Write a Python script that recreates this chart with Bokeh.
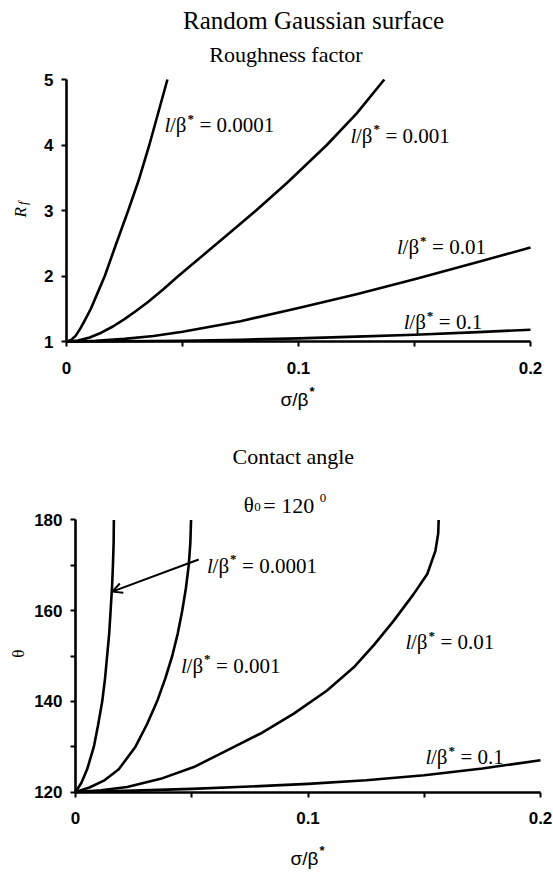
import math
from bokeh.plotting import figure
from bokeh.models import FixedTicker, Label, Arrow, OpenHead
from bokeh.layouts import column
from bokeh.embed import file_html
from bokeh.resources import INLINE

# ---------------- data: roughness factor (top panel) ----------------
rf_x_0001 = [0, 0.002, 0.004, 0.006, 0.008, 0.0105, 0.0135, 0.0165, 0.021, 0.0266, 0.031, 0.0357, 0.0435]
rf_y_0001 = [1, 1.025, 1.09, 1.2, 1.33, 1.5, 1.75, 2.0, 2.45, 3.0, 3.45, 4.0, 5.0]
rf_x_001 = [0, 0.005, 0.01, 0.015, 0.02, 0.025, 0.0295, 0.035, 0.0415, 0.0482, 0.06, 0.07, 0.0817, 0.095, 0.1122, 0.125, 0.137]
rf_y_001 = [1, 1.016, 1.062, 1.134, 1.229, 1.341, 1.455, 1.6, 1.79, 2.0, 2.35, 2.65, 3.0, 3.42, 4.0, 4.48, 5.0]
rf_x_01 = [0, 0.0125, 0.025, 0.0375, 0.05, 0.075, 0.1, 0.125, 0.15, 0.175, 0.2]
rf_y_01 = [1, 1.01, 1.04, 1.085, 1.15, 1.31, 1.51, 1.72, 1.95, 2.19, 2.435]
rf_x_1 = [0, 0.025, 0.05, 0.075, 0.1, 0.125, 0.15, 0.175, 0.2]
rf_y_1 = [1, 1.003, 1.012, 1.027, 1.048, 1.074, 1.104, 1.14, 1.18]

# ---------------- data: contact angle (bottom panel) ----------------
th_x_0001 = [0, 0.0025, 0.005, 0.0079, 0.0098, 0.0115, 0.0127, 0.0136, 0.0145, 0.0151, 0.0157, 0.0161, 0.0164, 0.0165]
th_y_0001 = [120, 122, 125, 130, 135, 140, 145, 150, 155, 160, 165, 170, 175, 180]
th_x_001 = [0, 0.006, 0.0122, 0.0186, 0.0258, 0.0308, 0.0351, 0.0386, 0.0416, 0.044, 0.0459, 0.0475, 0.0487, 0.0494, 0.0497]
th_y_001 = [120, 121, 122.5, 125, 130, 135, 140, 145, 150, 155, 160, 165, 170, 175, 180]
th_x_01 = [0, 0.011, 0.0222, 0.0366, 0.0509, 0.0652, 0.0796, 0.0939, 0.1082, 0.1197, 0.1285,
           0.1369, 0.1455, 0.1513, 0.1548, 0.156, 0.1562]
th_y_01 = [120, 120.4, 121.1, 122.9, 125.5, 129.2, 132.9, 137.3, 142.4, 147.5, 152.5,
           157.8, 163.7, 168.1, 173.2, 177, 180]
th_x_1 = [0, 0.025, 0.05, 0.075, 0.1, 0.125, 0.15, 0.175, 0.2]
th_y_1 = [120, 120.3, 120.7, 121.2, 121.8, 122.6, 123.7, 125.2, 127.0]

# ---------------- ticks ----------------
x_ticks = [0, 0.05, 0.1, 0.15, 0.2]
x_tick_labels = {0: "0", 0.05: "", 0.1: "0.1", 0.15: "", 0.2: "0.2"}
rf_ticks = [1, 2, 3, 4, 5]
th_ticks = [120, 130, 140, 150, 160, 170, 180]
th_tick_labels = {120: "120", 130: "", 140: "140", 150: "", 160: "160", 170: "", 180: "180"}

# ---------------- curve labels ----------------
rf_labels = ["0.0001", "0.001", "0.01", "0.1"]
rf_label_x = [0.0422, 0.1224, 0.1425, 0.1454]
rf_label_y = [4.305, 4.145, 2.439, 1.294]
th_labels = ["0.0001", "0.001", "0.01", "0.1"]
th_label_x = [0.0566, 0.0454, 0.1419, 0.1505]
th_label_y = [169.96, 147.9, 153.04, 127.67]

SERIF = "Liberation Serif"
SANS = "Liberation Sans"
LW = 2.6


def make_fig(height, xr, yr, x_loc, y_loc, xb, yb, xt, xl, yt, yl):
    p = figure(width=553, height=height, x_range=xr, y_range=yr,
               output_backend="svg", toolbar_location=None, min_border=0)
    p.xgrid.grid_line_color = None
    p.ygrid.grid_line_color = None
    p.outline_line_color = None
    p.xaxis.fixed_location = x_loc
    p.yaxis.fixed_location = y_loc
    p.xaxis.bounds = xb
    p.yaxis.bounds = yb
    p.xaxis.ticker = FixedTicker(ticks=xt)
    p.xaxis.major_label_overrides = xl
    p.yaxis.ticker = FixedTicker(ticks=yt)
    if yl:
        p.yaxis.major_label_overrides = yl
    for ax in (p.xaxis, p.yaxis):
        ax.axis_line_width = LW
        ax.axis_line_color = "black"
        ax.major_tick_line_width = 2
        ax.major_tick_line_color = "black"
        ax.major_tick_in = 0
        ax.major_tick_out = 5
        ax.minor_tick_line_color = None
        ax.major_label_text_font = SANS
        ax.major_label_text_font_style = "bold"
        ax.major_label_text_font_size = "17px"
        ax.major_label_text_color = "black"
    p.xaxis.major_label_standoff = 15
    p.yaxis.major_label_standoff = 8
    return p


def curve_label(p, x, y, val):
    common = dict(x=x, y=y, text_font=SERIF, text_color="black",
                  text_baseline="alphabetic", text_align="left")
    p.add_layout(Label(text="l", text_font_style="italic", text_font_size="21px", **common))
    p.add_layout(Label(text="/β", x_offset=5.5, text_font_size="21px", **common))
    p.add_layout(Label(text="*", x_offset=23, y_offset=7, text_font_size="13px",
                       text_font_style="bold", **common))
    p.add_layout(Label(text="= " + val, x_offset=35, text_font_size="21px", **common))


def sigma_label(p, x, y):
    common = dict(x=x, y=y, text_font=SANS, text_color="black",
                  text_baseline="alphabetic", text_align="left")
    p.add_layout(Label(text="σ/β", text_font_size="19px", **common))
    p.add_layout(Label(text="*", x_offset=29, y_offset=8, text_font_size="13px",
                       text_font_style="bold", **common))


def title_label(p, x, y, text, size):
    p.add_layout(Label(x=x, y=y, text=text, text_font=SERIF, text_font_size=size,
                       text_align="center", text_baseline="middle", text_color="black"))


# ---------------- top figure ----------------
p1 = make_fig(412, (-0.028448, 0.209914), (-0.08397, 6.20611), 1, 0, (0, 0.2), (1, 5),
              x_ticks, x_tick_labels, rf_ticks, None)
for xs, ys in ((rf_x_0001, rf_y_0001), (rf_x_001, rf_y_001), (rf_x_01, rf_y_01), (rf_x_1, rf_y_1)):
    p1.line(xs, ys, line_color="black", line_width=LW, line_join="round")
for v, x, y in zip(rf_labels, rf_label_x, rf_label_y):
    curve_label(p1, x, y, v)
title_label(p1, 0.1065, 5.906, "Random Gaussian surface", "25px")
title_label(p1, 0.0946, 5.376, "Roughness factor", "22px")
sigma_label(p1, 0.0922, 0.114)
p1.add_layout(Label(x=-0.0200, y=2.974, text="R", angle=math.pi / 2, text_font=SERIF,
                    text_font_style="italic", text_font_size="17px", text_align="center",
                    text_baseline="middle", text_color="black"))
p1.add_layout(Label(x=-0.0200, y=2.974, text="f", angle=math.pi / 2, x_offset=2, y_offset=9,
                    text_font=SERIF, text_font_style="italic", text_font_size="13px",
                    text_align="center", text_baseline="middle", text_color="black"))

# ---------------- bottom figure ----------------
p2 = make_fig(460, (-0.032258, 0.205591), (102.243, 203.713), 120, 0, (0, 0.2), (120, 180),
              x_ticks, x_tick_labels, th_ticks, th_tick_labels)
for xs, ys in ((th_x_0001, th_y_0001), (th_x_001, th_y_001), (th_x_01, th_y_01), (th_x_1, th_y_1)):
    p2.line(xs, ys, line_color="black", line_width=LW, line_join="round")
for v, x, y in zip(th_labels, th_label_x, th_label_y):
    curve_label(p2, x, y, v)
p2.add_layout(Arrow(x_start=0.0530, y_start=171.3, x_end=0.0158, y_end=164.2,
                    line_width=2, line_color="black",
                    end=OpenHead(size=10, line_width=2, line_color="black")))
title_label(p2, 0.0937, 194.1, "Contact angle", "22px")
tc = dict(x=0.0724, y=183.2, text_font=SERIF, text_color="black",
          text_baseline="alphabetic", text_align="left")
p2.add_layout(Label(text="θ", text_font_size="21px", **tc))
p2.add_layout(Label(text="0", x_offset=10.5, y_offset=-2, text_font_size="13px", **tc))
p2.add_layout(Label(text="= 120", x_offset=19.5, text_font_size="22px", **tc))
p2.add_layout(Label(text="0", x_offset=76, y_offset=7, text_font_size="13px", **tc))
sigma_label(p2, 0.0925, 105.43)
p2.add_layout(Label(x=-0.02473, y=150.5, text="θ", angle=math.pi / 2, text_font=SERIF,
                    text_font_size="17px", text_align="center", text_baseline="middle",
                    text_color="black"))

layout = column(p1, p2, spacing=0)
open("out.html", "w").write(file_html(layout, INLINE))
